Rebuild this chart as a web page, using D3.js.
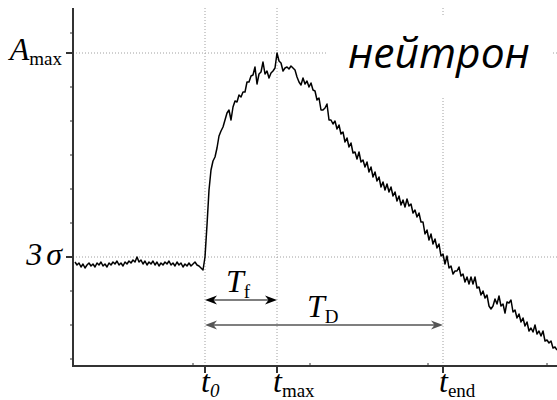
<!DOCTYPE html>
<html><head><meta charset="utf-8">
<script src="https://cdn.jsdelivr.net/npm/d3@7"></script>
<style>body{margin:0;background:#fff} svg{display:block}</style>
</head><body><svg id="c" width="557" height="400"></svg>
<script>
// Signal amplitude, one value per sample (arbitrary units)
const amplitude = [
104,101,103,99,102,98,101,103,100,102,
99,103,101,104,100,102,99,103,101,104,
102,105,101,103,100,104,102,105,103,106,
104,109,104,106,102,105,101,104,102,105,
101,104,100,103,101,104,102,105,101,103,
100,104,101,103,99,102,100,103,100,102,
104,101,100,98,96,109,141,176,196,205,
209,218,230,235,239,246,253,256,246,259,
265,264,271,269,274,274,284,284,290,291,
299,282,292,294,304,292,295,288,293,295,
298,313,305,303,295,298,299,297,300,298,
296,289,284,281,288,282,285,279,283,276,
275,266,268,256,256,258,262,246,246,242,
245,237,241,232,234,224,228,219,223,213,
214,207,214,204,206,199,204,194,199,189,
194,185,189,179,184,176,182,174,179,170,
174,165,170,161,166,159,167,160,162,153,
156,149,153,144,144,132,136,126,132,122,
127,118,122,110,112,102,110,98,100,92,
95,95,99,90,92,84,89,82,89,82,
89,78,79,71,75,68,71,60,57,60,
67,62,70,60,62,53,64,63,66,54,
56,48,52,44,48,40,44,35,38,34,
41,32,35,30,35,25,26,23,25,18,
19,16
];
const timeDomain = [-1, 241];
const ampDomain = [0, 358];
const xMarkers = [65, 101, 184];               // t0, tmax, tend (sample index)
const xMarkerLabels = [["t","0",true],["t","max",false],["t","end",false]];
const yMarkers = [313, 109];                   // Amax, 3σ
const yMarkerLabels = [["A","max"],["3","σ"]];
const minorXTicks = [59, 117.5, 176.5, 236];
const minorYTicks = [7, 41, 75, 143, 177, 211, 245, 279, 333];
const spans = [{from:65, to:101, main:"T", sub:"f", level:0}, {from:65, to:184, main:"T", sub:"D", level:1}];
const title = "нейтрон";

const svg = d3.select("#c");
const M = {left:73, right:557, top:8, bottom:366};
const x = d3.scaleLinear().domain(timeDomain).range([M.left, M.right]);
const y = d3.scaleLinear().domain(ampDomain).range([M.bottom, M.top]);
const serif = "'Liberation Serif','Times New Roman',serif";
const grid = "#a0a0a0";

// gridlines
svg.selectAll(".hg").data(yMarkers).enter().append("line")
  .attr("x1", M.left).attr("x2", M.right).attr("y1", d=>y(d)).attr("y2", d=>y(d))
  .attr("stroke", grid).attr("stroke-width", 1).attr("stroke-dasharray", "1,2");
svg.selectAll(".vg").data(xMarkers).enter().append("line")
  .attr("x1", d=>x(d)).attr("x2", d=>x(d)).attr("y1", M.top).attr("y2", M.bottom)
  .attr("stroke", grid).attr("stroke-width", 1).attr("stroke-dasharray", "1,2");

// title box
const tg = svg.append("g");
tg.append("rect").attr("x", 326).attr("y", 16).attr("width", 227).attr("height", 80).attr("fill", "#fff");
const tt = tg.append("text").attr("x", 348).attr("y", 68)
  .attr("font-family", "'Open Sans','Noto Sans',sans-serif").attr("font-style", "italic")
  .attr("font-size", 40).attr("fill", "#000").text(title);
const tw = tt.node().getComputedTextLength();
tt.attr("font-size", 40 * 182 / tw);

// trace
const line = d3.line().x((d,i)=>x(i)).y(d=>y(d));
svg.append("path").datum(amplitude).attr("d", line)
  .attr("fill", "none").attr("stroke", "#000").attr("stroke-width", 1.5).attr("stroke-linejoin", "round");

// axes
const axc = "#333";
svg.append("line").attr("x1", M.left).attr("x2", M.left).attr("y1", M.top).attr("y2", M.bottom+1)
  .attr("stroke", axc).attr("stroke-width", 2);
svg.append("line").attr("x1", M.left-1).attr("x2", M.right).attr("y1", M.bottom).attr("y2", M.bottom)
  .attr("stroke", axc).attr("stroke-width", 2);
svg.selectAll(".ymt").data(yMarkers).enter().append("line")
  .attr("x1", M.left-7).attr("x2", M.left).attr("y1", d=>y(d)).attr("y2", d=>y(d))
  .attr("stroke", axc).attr("stroke-width", 2);
svg.selectAll(".ynt").data(minorYTicks).enter().append("line")
  .attr("x1", M.left-3).attr("x2", M.left).attr("y1", d=>y(d)).attr("y2", d=>y(d))
  .attr("stroke", axc).attr("stroke-width", 1);
svg.selectAll(".xmt").data(xMarkers).enter().append("line")
  .attr("x1", d=>x(d)).attr("x2", d=>x(d)).attr("y1", M.bottom).attr("y2", M.bottom+7)
  .attr("stroke", axc).attr("stroke-width", 2);
svg.selectAll(".xnt").data(minorXTicks).enter().append("line")
  .attr("x1", d=>x(d)).attr("x2", d=>x(d)).attr("y1", M.bottom-3).attr("y2", M.bottom)
  .attr("stroke", axc).attr("stroke-width", 1);

// y labels
yMarkerLabels.forEach((lab,i)=>{
  const t = svg.append("text").attr("x", 62).attr("y", y(yMarkers[i]) + (i===0?7:8))
    .attr("text-anchor", "end").attr("font-family", serif).attr("font-size", 32).attr("fill", "#000");
  if (i===0) {
    t.append("tspan").attr("font-style", "italic").text(lab[0]);
    t.append("tspan").attr("font-size", 19).attr("dy", 5).text(lab[1]);
  } else {
    t.append("tspan").attr("font-style", "italic").text(lab[0]);
    t.append("tspan").attr("font-style", "italic").attr("dx", 4).text(lab[1]);
  }
});

// x labels
xMarkerLabels.forEach((lab,i)=>{
  const t = svg.append("text").attr("x", x(xMarkers[i]) - 4).attr("y", 392)
    .attr("font-family", serif).attr("font-size", 32).attr("fill", "#000");
  t.append("tspan").attr("font-style", "italic").text(lab[0]);
  t.append("tspan").attr("font-size", 19).attr("dy", 5).attr("font-style", lab[2]?"italic":"normal").text(lab[1]);
});

// span arrows
function head(px, py, dir, color){
  const L = 12, W = 4.5, N = 8.5;
  svg.append("path").attr("d", `M${px},${py} L${px+dir*L},${py-W} L${px+dir*N},${py} L${px+dir*L},${py+W} Z`)
    .attr("fill", color);
}
spans.forEach(s=>{
  const yy = s.level===0 ? 300 : 325;
  const col = s.level===0 ? "#000" : "#555";
  const x1 = x(s.from), x2 = x(s.to);
  svg.append("line").attr("x1", x1+6).attr("x2", x2-6).attr("y1", yy).attr("y2", yy)
    .attr("stroke", col).attr("stroke-width", s.level===0?1.2:1.5);
  head(x1, yy, 1, col); head(x2, yy, -1, col);
  const tx = s.level===0 ? 226 : 307;
  const t = svg.append("text").attr("x", tx).attr("y", yy-8)
    .attr("font-family", serif).attr("font-size", 32).attr("fill", "#000");
  t.append("tspan").attr("font-style", "italic").text(s.main);
  t.append("tspan").attr("font-size", 19).attr("dy", 6).text(s.sub);
});
</script></body></html>
